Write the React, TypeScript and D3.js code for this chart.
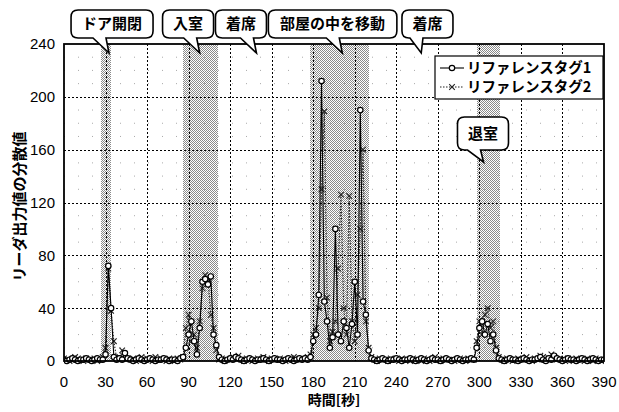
import React from "react";
import * as d3 from "d3";

// ---- data (time step 2 s, 0..390) ----
const tag1Values: number[] = [
  1, 0, 1, 2, 1, 0, 1, 1, 2, 1,
  0, 1, 2, 1, 1, 5, 72, 40, 3, 1,
  2, 1, 6, 2, 1, 0, 1, 2, 1, 0,
  1, 2, 1, 0, 1, 1, 2, 1, 0, 1,
  1, 0, 2, 3, 10, 20, 30, 15, 5, 25,
  60, 62, 58, 64, 20, 12, 3, 1, 0, 1,
  2, 1, 3, 2, 1, 0, 1, 2, 1, 0,
  1, 1, 2, 1, 0, 1, 2, 1, 1, 0,
  1, 2, 1, 0, 1, 2, 1, 2, 1, 3,
  15, 20, 50, 212, 45, 30, 10, 18, 100, 20,
  15, 30, 25, 10, 28, 60, 20, 190, 45, 35,
  8, 2, 1, 0, 1, 2, 1, 0, 1, 1,
  2, 1, 0, 1, 1, 2, 1, 0, 1, 2,
  1, 0, 1, 2, 1, 1, 0, 1, 2, 1,
  0, 1, 2, 1, 0, 1, 1, 2, 1, 10,
  25, 30, 20, 28, 15, 20, 8, 2, 1, 0,
  1, 2, 1, 1, 0, 1, 2, 1, 0, 1,
  1, 2, 3, 1, 0, 2, 1, 4, 2, 1,
  0, 1, 2, 1, 1, 0, 1, 2, 1, 0,
  1, 2, 1, 0, 1, 1,
];
const tag2Values: number[] = [
  2, 1, 0, 1, 3, 2, 1, 0, 2, 1,
  1, 2, 0, 1, 3, 10, 70, 38, 15, 2,
  3, 8, 5, 2, 1, 2, 0, 1, 3, 1,
  2, 1, 0, 3, 1, 2, 1, 0, 2, 1,
  0, 2, 1, 3, 25, 35, 15, 20, 10, 30,
  55, 65, 62, 35, 25, 8, 1, 2, 0, 1,
  1, 3, 2, 4, 1, 0, 2, 1, 0, 1,
  2, 1, 3, 1, 0, 2, 1, 1, 2, 1,
  0, 1, 2, 3, 1, 1, 2, 1, 3, 5,
  20, 25, 40, 130, 189, 48, 15, 22, 30, 70,
  126, 40, 20, 125, 30, 15, 50, 100, 160, 30,
  10, 3, 1, 0, 2, 1, 1, 0, 2, 1,
  1, 0, 2, 1, 1, 0, 2, 1, 1, 0,
  2, 1, 0, 1, 3, 1, 0, 2, 1, 1,
  1, 0, 1, 2, 1, 0, 2, 1, 1, 15,
  30, 20, 35, 40, 25, 30, 10, 3, 1, 0,
  2, 1, 0, 1, 2, 1, 1, 3, 1, 0,
  2, 1, 4, 3, 1, 2, 5, 3, 1, 2,
  1, 0, 2, 1, 0, 2, 1, 1, 0, 2,
  1, 0, 2, 1, 0, 1,
];
const timeStep = 2;
const xTicks: number[] = [0, 30, 60, 90, 120, 150, 180, 210, 240, 270, 300, 330, 360, 390];
const yTicks: number[] = [0, 40, 80, 120, 160, 200, 240];
const seriesNames: string[] = ["リファレンスタグ1", "リファレンスタグ2"];
const bandStarts: number[] = [27, 86, 178, 298];
const bandEnds: number[] = [34, 111, 220, 315];
const calloutTexts: string[] = ["ドア開閉", "入室", "着席", "部屋の中を移動", "着席", "退室"];
const calloutCenters: number[] = [34.7, 89.6, 127.8, 194, 262.5, 302.6];
const calloutTips: number[] = [32.5, 98, 139, 201, 258, 303];
const calloutLevels: number[] = [0, 0, 0, 0, 0, 1];

const W = 619, H = 412;
const L = 64, R = 604, T = 44, B = 361;

export default function App() {
  const x = d3.scaleLinear().domain([0, 390]).range([L, R]);
  const y = d3.scaleLinear().domain([0, 240]).range([B, T]);
  const pts1 = tag1Values.map((v, i) => [i * timeStep, v] as [number, number]);
  const pts2 = tag2Values.map((v, i) => [i * timeStep, v] as [number, number]);
  const line = d3.line<[number, number]>().x((d) => x(d[0])).y((d) => y(d[1]));
  const minorY = d3.range(10, 240, 10).filter((v) => v % 40 !== 0);

  const cross = (cx: number, cy: number, s = 2.8) =>
    `M${cx - s},${cy - s}L${cx + s},${cy + s}M${cx - s},${cy + s}L${cx + s},${cy - s}`;

  const calloutPath = (cx: number, w: number, y0: number, y1: number, tipX: number, tipY: number) => {
    const x0 = cx - w / 2, x1 = cx + w / 2, r = 7;
    let b1 = tipX - 16, b2 = tipX - 3;
    if (b2 > x1 - r - 1) { b2 = x1 - r - 1; b1 = b2 - 13; }
    if (b1 < x0 + r + 1) { b1 = x0 + r + 1; b2 = b1 + 13; }
    return `M${x0 + r},${y0}H${x1 - r}Q${x1},${y0} ${x1},${y0 + r}V${y1 - r}Q${x1},${y1} ${x1 - r},${y1}H${b2}L${tipX},${tipY}L${b1},${y1}H${x0 + r}Q${x0},${y1} ${x0},${y1 - r}V${y0 + r}Q${x0},${y0} ${x0 + r},${y0}Z`;
  };

  const jp = "'Noto Sans CJK JP', 'Noto Sans', sans-serif";
  const num = "'Liberation Sans', Arial, sans-serif";

  return (
    <svg width={W} height={H} style={{ position: "absolute", left: 0, top: 0, background: "#fff" }}>
      <defs>
        <pattern id="stip" width="2" height="2" patternUnits="userSpaceOnUse">
          <rect x="0" y="0" width="2" height="2" fill="#fff" />
          <rect x="0" y="0" width="1" height="1" fill="#8a8a8a" />
          <rect x="1" y="1" width="1" height="1" fill="#8a8a8a" />
        </pattern>
        <clipPath id="plot">
          <rect x={L} y={T} width={R - L} height={B - T + 4} />
        </clipPath>
      </defs>
      <rect x={0} y={0} width={W} height={H} fill="#fff" />
      {bandStarts.map((s, i) => (
        <rect key={"b" + i} x={x(s)} y={T} width={x(bandEnds[i]) - x(s)} height={B - T} fill="url(#stip)" shapeRendering="crispEdges" />
      ))}
      {minorY.map((v) => (
        <line key={"my" + v} x1={L} x2={R} y1={y(v)} y2={y(v)} stroke="#aaa" strokeWidth={1} strokeDasharray="1,13" />
      ))}
      {yTicks.slice(1, -1).map((v) => (
        <line key={"gy" + v} x1={L} x2={R} y1={Math.round(y(v)) + 0.5} y2={Math.round(y(v)) + 0.5} stroke="#000" strokeWidth={1} strokeDasharray="2,2" />
      ))}
      {xTicks.slice(1, -1).map((v) => (
        <line key={"gx" + v} x1={Math.round(x(v)) + 0.5} x2={Math.round(x(v)) + 0.5} y1={T} y2={B} stroke="#000" strokeWidth={1} strokeDasharray="2,2" />
      ))}
      <g clipPath="url(#plot)">
        <path d={line(pts2) || ""} fill="none" stroke="#222" strokeWidth={1.1} strokeDasharray="1.5,1.5" />
        {pts2.map((p, i) => (
          <path key={"m2" + i} d={cross(x(p[0]), y(p[1]))} stroke="#222" strokeWidth={1.1} fill="none" />
        ))}
        <path d={line(pts1) || ""} fill="none" stroke="#000" strokeWidth={1.1} />
        {pts1.map((p, i) => (
          <circle key={"m1" + i} cx={x(p[0])} cy={y(p[1])} r={2.7} fill="#fff" stroke="#000" strokeWidth={1.2} />
        ))}
      </g>
      <rect x={L} y={T} width={R - L} height={B - T} fill="none" stroke="#000" strokeWidth={1.8} />
      {yTicks.map((v) => (
        <text key={"ty" + v} x={L - 9} y={y(v)} dy="0.36em" textAnchor="end" fontFamily={num} fontSize={15} fill="#000">
          {v}
        </text>
      ))}
      {xTicks.map((v) => (
        <text key={"tx" + v} x={x(v)} y={B + 26} textAnchor="middle" fontFamily={num} fontSize={15} fill="#000">
          {v}
        </text>
      ))}
      <text x={(L + R) / 2} y={405} textAnchor="middle" fontFamily={jp} fontWeight="bold" fontSize={14}>
        時間[秒]
      </text>
      <text transform={`translate(25,${(T + B) / 2 + 4}) rotate(-90)`} textAnchor="middle" fontFamily={jp} fontWeight="bold" fontSize={15}>
        リーダ出力値の分散値
      </text>
      <g>
        <rect x={435} y={56} width={168} height={43} fill="#fff" stroke="#000" strokeWidth={1.2} />
        <line x1={440} x2={464} y1={68} y2={68} stroke="#000" strokeWidth={1.1} />
        <circle cx={452} cy={68} r={2.7} fill="#fff" stroke="#000" strokeWidth={1.2} />
        <text x={467} y={68} dy="0.36em" fontFamily={jp} fontWeight="bold" fontSize={14.5}>{seriesNames[0]}</text>
        <line x1={440} x2={464} y1={87} y2={87} stroke="#222" strokeWidth={1.1} strokeDasharray="1.5,1.5" />
        <path d={cross(452, 87)} stroke="#222" strokeWidth={1.1} />
        <text x={467} y={87} dy="0.36em" fontFamily={jp} fontWeight="bold" fontSize={14.5}>{seriesNames[1]}</text>
      </g>
      {calloutTexts.map((t, i) => {
        const w = t.length * 15.5 + 20;
        const cx = x(calloutCenters[i]);
        const lvl = calloutLevels[i];
        const y0 = lvl === 0 ? 10 : 117;
        const y1 = lvl === 0 ? 38 : 150;
        const tipY = lvl === 0 ? 53 : 162;
        return (
          <g key={"c" + i}>
            <path d={calloutPath(cx, w, y0, y1, x(calloutTips[i]), tipY)} fill="#fff" stroke="#000" strokeWidth={1.6} />
            <text x={cx} y={(y0 + y1) / 2} dy="0.36em" textAnchor="middle" fontFamily={jp} fontWeight="bold" fontSize={15}>
              {t}
            </text>
          </g>
        );
      })}
    </svg>
  );
}
